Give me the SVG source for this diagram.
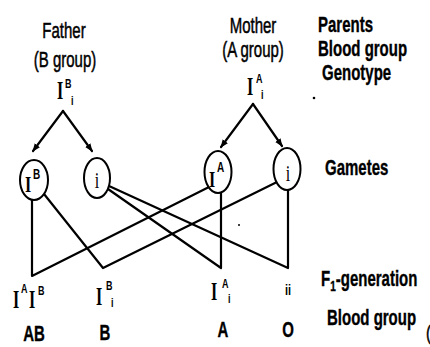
<svg xmlns="http://www.w3.org/2000/svg" width="430" height="347" viewBox="0 0 430 347">
  <style>
    text { fill: #000; }
    .t { font-family: "Liberation Sans", Arial, sans-serif; font-size: 15px; stroke: #000; stroke-width: 0.35; }
    .tb { font-family: "Liberation Sans", Arial, sans-serif; font-size: 15px; font-weight: bold; stroke: #000; stroke-width: 0.25; }
    .g { font-family: "Liberation Serif", "Times New Roman", serif; font-size: 16px; font-weight: bold; }
    .s { font-family: "Liberation Sans", Arial, sans-serif; font-size: 9px; font-weight: bold; }
    .link { fill: none; stroke: #000; stroke-width: 2.2; stroke-linecap: round; stroke-linejoin: round; }
    .gam { fill: #fff; stroke: #000; stroke-width: 2; }
  </style>
  <defs>
    <marker id="arrow" viewBox="0 0 10 10" refX="9" refY="5" markerWidth="8" markerHeight="8" markerUnits="userSpaceOnUse" orient="auto">
      <path d="M0,1 L10,5 L0,9 z" fill="#000"/>
    </marker>
  </defs>

  <rect width="430" height="347" fill="#fff"/>

  <!-- connectors: parent arrows and gamete crossings -->
  <g id="connectors" class="link">
    <path d="M63,111 L33,151" marker-end="url(#arrow)"/>
    <path d="M63,111 L92,151" marker-end="url(#arrow)"/>
    <path d="M253,104 L221,147" marker-end="url(#arrow)"/>
    <path d="M253,104 L282,146" marker-end="url(#arrow)"/>
    <path d="M32,200 L32,276 L209,187"/>
    <path d="M44,194 L103,268 L277,182"/>
    <path d="M108,189 L221,268 L221,193"/>
    <path d="M109,186 L288,268 L288,190"/>
  </g>

  <!-- parents -->
  <g id="father">
    <text class="t" text-anchor="middle" transform="translate(64 38) scale(1 1.5)">Father</text>
    <text class="t" text-anchor="middle" transform="translate(65 67) scale(1 1.5)">(B group)</text>
    <text class="g" transform="translate(57 99) scale(1 1.6)">I</text>
    <text class="s" transform="translate(65 88) scale(1 1.5)">B</text>
    <text class="s" transform="translate(71 105) scale(1 1.5)">i</text>
  </g>
  <g id="mother">
    <text class="t" text-anchor="middle" transform="translate(253 33) scale(1 1.5)">Mother</text>
    <text class="t" text-anchor="middle" transform="translate(253 57) scale(1 1.5)">(A group)</text>
    <text class="g" transform="translate(247 95) scale(1 1.6)">I</text>
    <text class="s" transform="translate(256 83) scale(1 1.5)">A</text>
    <text class="s" transform="translate(261 99) scale(1 1.5)">i</text>
  </g>

  <!-- gametes -->
  <g id="gamete-IB">
    <ellipse class="gam" cx="34" cy="180" rx="14" ry="20"/>
    <text class="g" transform="translate(25 192) scale(1 1.5)">I</text>
    <text class="s" style="font-size:10px" transform="translate(33 179) scale(1 1.4)">B</text>
  </g>
  <g id="gamete-i-father">
    <ellipse class="gam" cx="97" cy="178" rx="13" ry="20"/>
    <text class="g" style="font-weight:normal" text-anchor="middle" transform="translate(97 188) scale(1 1.5)">i</text>
  </g>
  <g id="gamete-IA">
    <ellipse class="gam" cx="218" cy="172" rx="13.5" ry="21"/>
    <text class="g" transform="translate(209 187) scale(1 1.5)">I</text>
    <text class="s" style="font-size:10px" transform="translate(217 172) scale(1 1.4)">A</text>
  </g>
  <g id="gamete-i-mother">
    <ellipse class="gam" cx="287" cy="169" rx="13.5" ry="21"/>
    <text class="g" style="font-weight:normal" text-anchor="middle" transform="translate(288 181) scale(1 1.5)">i</text>
  </g>

  <!-- F1 offspring -->
  <g id="f1-AB">
    <text class="g" transform="translate(13 308) scale(1 1.6)">I</text>
    <text class="s" transform="translate(21 293) scale(1 1.5)">A</text>
    <text class="g" transform="translate(29 308) scale(1 1.6)">I</text>
    <text class="s" transform="translate(38 295) scale(1 1.5)">B</text>
    <text class="tb" text-anchor="middle" transform="translate(34 341) scale(1 1.5)">AB</text>
  </g>
  <g id="f1-B">
    <text class="g" transform="translate(96 305) scale(1 1.6)">I</text>
    <text class="s" transform="translate(106 290) scale(1 1.5)">B</text>
    <text class="s" transform="translate(111 307) scale(1 1.5)">i</text>
    <text class="tb" text-anchor="middle" transform="translate(105 340) scale(1 1.5)">B</text>
  </g>
  <g id="f1-A">
    <text class="g" transform="translate(211 300) scale(1 1.6)">I</text>
    <text class="s" transform="translate(222 288) scale(1 1.5)">A</text>
    <text class="s" transform="translate(228 303) scale(1 1.5)">i</text>
    <text class="tb" text-anchor="middle" transform="translate(223 337) scale(1 1.5)">A</text>
  </g>
  <g id="f1-O">
    <text class="s" style="font-size:11px" text-anchor="middle" transform="translate(288 295) scale(1 1.3)">ii</text>
    <text class="tb" text-anchor="middle" transform="translate(288 337) scale(1 1.5)">O</text>
  </g>

  <!-- row labels -->
  <g id="row-labels">
    <text class="tb" transform="translate(318 32) scale(1 1.5)">Parents</text>
    <text class="tb" transform="translate(318 56) scale(1 1.5)">Blood group</text>
    <text class="tb" transform="translate(322 80) scale(1 1.5)">Genotype</text>
    <text class="tb" transform="translate(325 175) scale(1 1.5)">Gametes</text>
    <text class="tb" transform="translate(321 286) scale(1 1.5)">F<tspan font-size="10" dy="3">1</tspan><tspan dy="-3">-generation</tspan></text>
    <text class="tb" transform="translate(327 325) scale(1 1.5)">Blood group</text>
    <text class="t" transform="translate(426 340) scale(1 1.3)">(</text>
  </g>

  <!-- small print marks -->
  <circle cx="314" cy="98" r="1.3" fill="#000"/>
  <circle cx="239" cy="225" r="1" fill="#000"/>
</svg>
